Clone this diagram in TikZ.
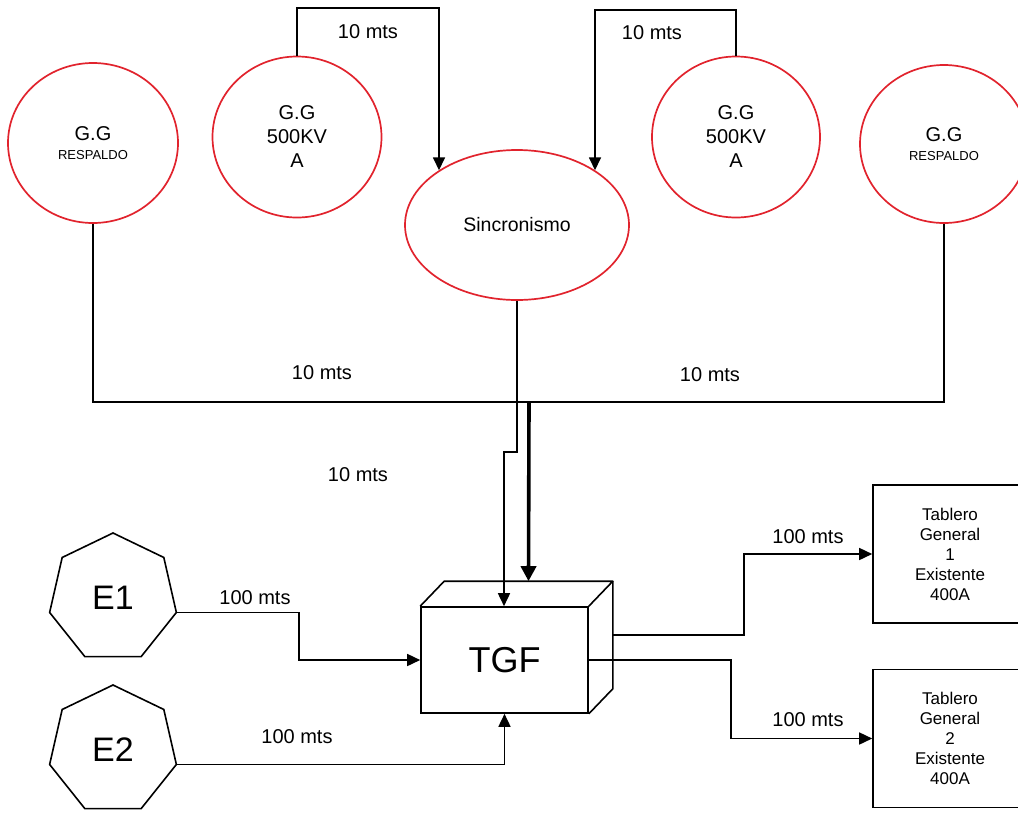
\documentclass[tikz,border=0pt]{standalone}
\usepackage{fontspec}
\setmainfont{Liberation Sans}
\usetikzlibrary{shapes.geometric,arrows.meta,calc}
\definecolor{gred}{RGB}{225,35,45}
\newcommand\fsz[2]{\fontsize{#1}{#2}\selectfont}
\begin{document}
\begin{tikzpicture}[x=1pt,y=-1pt,
  line/.style={line width=1.6pt},
  arr/.style={line, -{Triangle[length=13pt,width=12pt]}},
  bigarr/.style={line width=3.6pt, -{Triangle[length=15pt,width=15pt]}},
  gen/.style={draw=gred, line width=1.7pt, ellipse, inner sep=0pt, align=center},
  lbl/.style={font=\fsz{20}{22}, inner sep=0pt},
  hept/.style={draw, line width=1.6pt, regular polygon, regular polygon sides=7, minimum size=130pt, inner sep=0pt, font=\fsz{34}{40}},
  tab/.style={draw, line width=1.6pt, minimum width=154pt, minimum height=138pt, align=center, font=\fsz{17}{20}, inner sep=0pt}]
\useasboundingbox (0,0) rectangle (1018,812);
\clip (0,0) rectangle (1018,812);

% generators
\node[gen, minimum width=170pt, minimum height=160pt, font=\fsz{20}{19}] (ggl) at (93,143) {G.G\\{\fsz{13}{15}RESPALDO}};
\node[gen, minimum width=169pt, minimum height=161pt, font=\fsz{20}{24}] (gga) at (297,137) {G.G\\500KV\\A};
\node[gen, minimum width=224pt, minimum height=150pt, font=\fsz{19.5}{22}] (sinc) at (517,225) {Sincronismo};
\node[gen, minimum width=168pt, minimum height=161pt, font=\fsz{20}{24}] (ggb) at (736,137) {G.G\\500KV\\A};
\node[gen, minimum width=168pt, minimum height=158pt, font=\fsz{20}{19}] (ggr) at (944,144) {G.G\\{\fsz{13}{15}RESPALDO}};

% TGF box
\node[draw, line width=1.6pt, minimum width=167pt, minimum height=106pt, inner sep=0pt, font=\fsz{36}{40}] (tgf) at (504.5,660) {TGF};
\coordinate (bnw) at ($(tgf.north west)+(24,-25)$);
\coordinate (bne) at ($(tgf.north east)+(24,-25)$);
\coordinate (bse) at ($(tgf.south east)+(24,-25)$);
\draw[line, line join=round] (tgf.north west) -- (bnw) -- (bne) -- (tgf.north east);
\draw[line, line join=round] (bne) -- (bse) -- (tgf.south east);

% sources
\node[hept] (E1) at (113,598) {E1};
\node[hept] (E2) at (113,750) {E2};

% boards
\node[tab] (tb1) at (950,554) {Tablero\\General\\1\\Existente\\400A};
\node[tab] (tb2) at (950,738.5) {Tablero\\General\\2\\Existente\\400A};

% top connectors
\coordinate (tl) at (439,8);
\coordinate (tr) at (595,10);
\draw[arr] (gga.north) |- (tl) -- (tl |- sinc.145);
\draw[arr] (ggb.north) |- (tr) -- (tr |- sinc.35);

% bus
\coordinate (bus) at (529,402);
\draw[line] (ggl.south) -- (ggl.south |- bus) -- (ggr.south |- bus) -- (ggr.south);
\coordinate (tgfin) at ($(bnw)!0.5!(bne)$);
\draw[bigarr] (bus) -- (tgfin);

% sincronismo to TGF
\coordinate (j1) at (504,452);
\draw[arr] (sinc.south) |- (j1) -- (j1 |- tgf.north);

% sources to TGF
\draw[arr] (E1.corner 6) -- ++(122,0) |- (tgf.west);
\draw[arr] (E2.corner 6) -| (tgf.south);

% TGF to boards
\coordinate (o1) at ($(bne)!0.5!(bse)$);
\draw[arr] (o1) -- ++(131,0) |- (tb1.west);
\draw[arr] (tgf.east) -- ++(142,0) |- (tb2.west);

% labels
\node[lbl] (l1) at (368,32) {10 mts};
\node[lbl] (l2) at (652,33) {10 mts};
\node[lbl] (l3) at (322,373) {10 mts};
\node[lbl] (l4) at (710,375) {10 mts};
\node[lbl] (l5) at (358,475) {10 mts};
\node[lbl] (l6) at (255,598) {100 mts};
\node[lbl] (l7) at (297,737) {100 mts};
\node[lbl] (l8) at (808,537) {100 mts};
\node[lbl] (l9) at (808,720) {100 mts};
\end{tikzpicture}
\end{document}
